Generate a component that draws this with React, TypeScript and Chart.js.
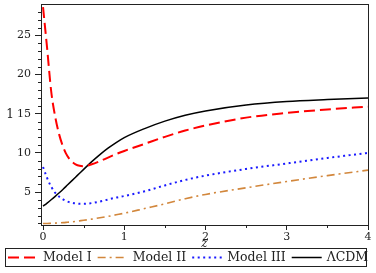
import React, { useEffect, useRef } from "react";
import { Chart, registerables } from "chart.js";

Chart.register(...registerables);

const zValues = [0, 0.05, 0.1, 0.15, 0.2, 0.25, 0.3, 0.35, 0.4, 0.45, 0.5, 0.6, 0.7, 0.8, 0.9, 1.0, 1.25, 1.5, 1.75, 2, 2.5, 3, 3.5, 4];
const modelI = [28.6, 23.4, 17.9, 14.6, 12.3, 10.7, 9.6, 8.95, 8.55, 8.35, 8.3, 8.55, 8.95, 9.4, 9.85, 10.25, 11.15, 12.05, 12.85, 13.5, 14.5, 15.1, 15.55, 15.9];
const modelII = [1.0, 1.0, 1.02, 1.04, 1.07, 1.1, 1.15, 1.2, 1.26, 1.33, 1.4, 1.55, 1.72, 1.9, 2.1, 2.3, 2.9, 3.5, 4.15, 4.7, 5.55, 6.35, 7.1, 7.8];
const modelIII = [8.2, 6.8, 5.7, 4.9, 4.4, 4.05, 3.8, 3.65, 3.55, 3.5, 3.5, 3.6, 3.8, 4.05, 4.3, 4.5, 5.1, 5.85, 6.55, 7.1, 7.95, 8.65, 9.35, 10.0];
const lcdm = [3.2, 3.6, 4.02, 4.46, 4.92, 5.4, 5.9, 6.4, 6.9, 7.4, 7.9, 8.88, 9.78, 10.6, 11.32, 11.95, 13.1, 14.05, 14.8, 15.35, 16.1, 16.55, 16.8, 17.0];

const seriesNames = ["Model I", "Model II", "Model III", "\u039BCDM"];
const xMajorTicks = [0, 1, 2, 3, 4];
const xMinorTicks = [0.5, 1.5, 2.5, 3.5];
const yMinorTicks = [1, 2, 3, 4, 6, 7, 8, 9, 11, 12, 13, 14, 16, 17, 18, 19, 21, 22, 23, 24, 26, 27, 28];
const xTitle = "z";
const yTitle = "1";

const FONT = "'DejaVu Serif', serif";
const AXIS = "#222";

const styles = [
  { color: "#ff0000", dash: [11, 5], width: 2 },
  { color: "#d2873c", dash: [8, 4, 2, 4], width: 1.6 },
  { color: "#1a1aff", dash: [2, 3.5], width: 2 },
  { color: "#000000", dash: [] as number[], width: 1.5 },
];

const toPts = (vals: number[]) => zValues.map((z, i) => ({ x: z, y: vals[i] }));

export default function App() {
  const ref = useRef<HTMLCanvasElement>(null);
  useEffect(() => {
    document.body.style.margin = "0";
    const all = [modelI, modelII, modelIII, lcdm];
    const decor = {
      id: "decor",
      afterDraw(chart: any) {
        const { ctx, chartArea: a } = chart;
        const xs = chart.scales.x;
        const ys = chart.scales.y;
        ctx.save();
        ctx.strokeStyle = AXIS;
        ctx.lineWidth = 1;
        ctx.setLineDash([]);
        ctx.strokeRect(Math.round(a.left) + 0.5, Math.round(a.top) + 0.5, Math.round(a.right - a.left), Math.round(a.bottom - a.top));
        ctx.beginPath();
        for (const v of xMinorTicks) {
          const px = Math.round(xs.getPixelForValue(v)) + 0.5;
          ctx.moveTo(px, a.bottom);
          ctx.lineTo(px, a.bottom + 3);
        }
        for (const v of yMinorTicks) {
          const py = Math.round(ys.getPixelForValue(v)) + 0.5;
          ctx.moveTo(a.left, py);
          ctx.lineTo(a.left - 3, py);
        }
        ctx.stroke();
        ctx.fillStyle = AXIS;
        ctx.textBaseline = "middle";
        ctx.textAlign = "center";
        ctx.font = `12px ${FONT}`;
        ctx.fillText(yTitle, 10, (a.top + a.bottom) / 2);
        ctx.font = `italic 12px ${FONT}`;
        ctx.fillText(xTitle, (a.left + a.right) / 2, 244);
        // legend
        ctx.strokeRect(5.5, 248.5, 361, 18);
        ctx.font = `12.5px ${FONT}`;
        ctx.textAlign = "left";
        let x = 8;
        const yc = 257.5;
        seriesNames.forEach((name, i) => {
          const s = styles[i];
          ctx.beginPath();
          ctx.strokeStyle = s.color;
          ctx.lineWidth = s.width;
          ctx.setLineDash(s.dash);
          ctx.moveTo(x, yc);
          ctx.lineTo(x + 30, yc);
          ctx.stroke();
          ctx.setLineDash([]);
          x += 35;
          ctx.fillStyle = AXIS;
          ctx.fillText(name, x, yc);
          x += ctx.measureText(name).width + 6;
        });
        ctx.restore();
      },
    };
    const chart = new Chart(ref.current!, {
      type: "line",
      data: {
        datasets: seriesNames.map((name, i) => ({
          label: name,
          data: toPts(all[i]),
          borderColor: styles[i].color,
          borderDash: styles[i].dash,
          borderWidth: styles[i].width,
          pointRadius: 0,
          cubicInterpolationMode: "monotone" as const,
          fill: false,
        })),
      },
      options: {
        animation: false,
        responsive: false,
        events: [],
        layout: { padding: { left: 0, right: 8, top: 4, bottom: 0 } },
        plugins: { legend: { display: false }, tooltip: { enabled: false } },
        scales: {
          x: {
            type: "linear",
            min: -0.025,
            max: 4,
            afterBuildTicks: (s: any) => {
              s.ticks = xMajorTicks.map((v) => ({ value: v }));
            },
            afterFit: (s: any) => {
              s.height = 48;
              s.paddingLeft = 0;
              s.paddingRight = 0;
            },
            ticks: { font: { family: FONT, size: 11 }, color: AXIS, padding: 1, maxRotation: 0 },
            grid: { drawOnChartArea: false, tickLength: 5, tickColor: AXIS },
            border: { color: AXIS },
          },
          y: {
            type: "linear",
            min: 0.8,
            max: 29,
            ticks: { stepSize: 5, includeBounds: false, font: { family: FONT, size: 11 }, color: AXIS, padding: 4 },
            afterFit: (s: any) => {
              s.width = 41;
              s.paddingTop = 0;
              s.paddingBottom = 0;
            },
            grid: { drawOnChartArea: false, tickLength: 6, tickColor: AXIS },
            border: { color: AXIS },
          },
        },
      },
      plugins: [decor],
    });
    return () => chart.destroy();
  }, []);
  return (
    <div style={{ position: "fixed", left: 0, top: 0, width: 376, height: 273, background: "#fff" }}>
      <canvas ref={ref} width={376} height={273} />
    </div>
  );
}
